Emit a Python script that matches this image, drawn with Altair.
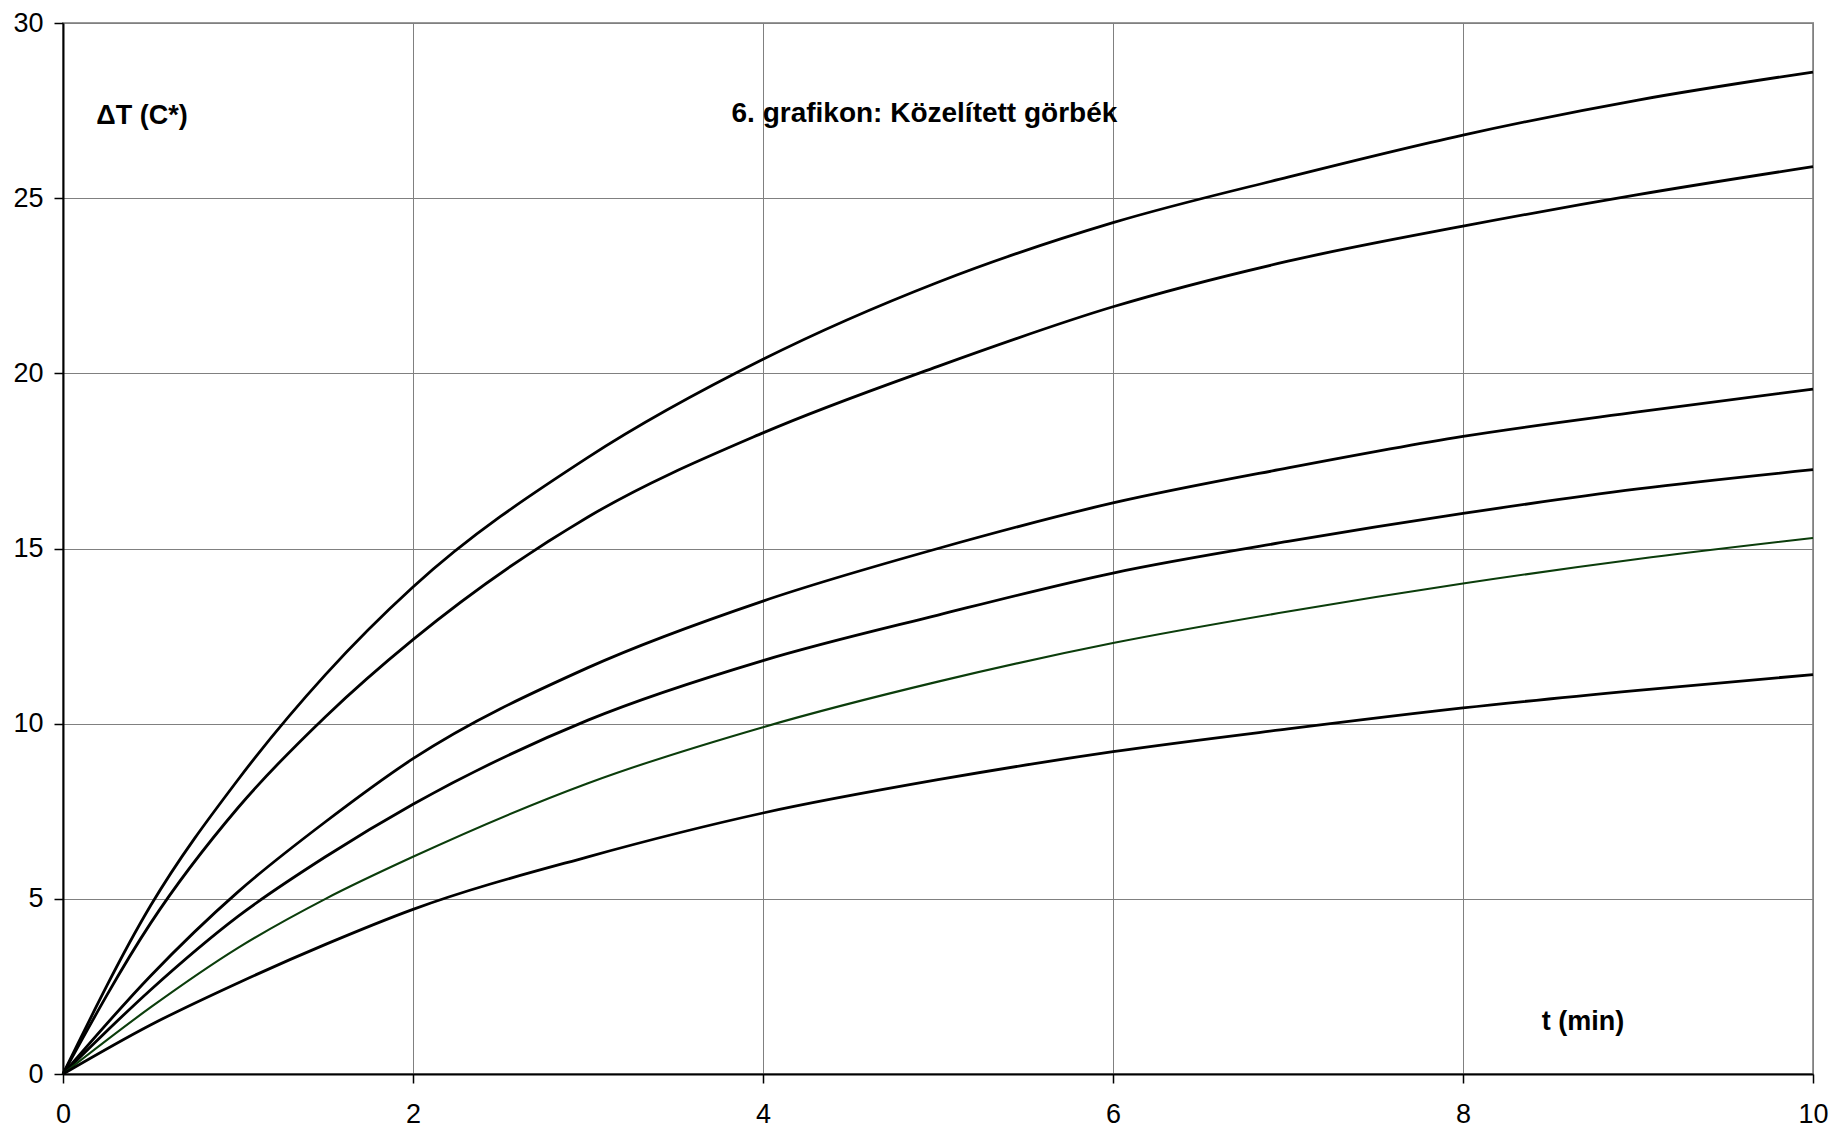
import altair as alt
import pandas as pd

# time points (min)
t_vals = [0, 0.5, 1, 1.5, 2, 3, 4, 5, 6, 7, 8, 9, 10]

# six approximated curves, ΔT (°C)
curve_a = [0, 4.8, 8.4, 11.4, 13.9, 17.6, 20.4, 22.6, 24.3, 25.6, 26.8, 27.8, 28.6]
curve_b = [0, 4.3, 7.6, 10.2, 12.4, 15.9, 18.3, 20.2, 21.9, 23.2, 24.2, 25.1, 25.9]
curve_c = [0, 2.8, 5.2, 7.2, 9.0, 11.6, 13.5, 15.0, 16.3, 17.3, 18.2, 18.9, 19.55]
curve_d = [0, 2.4, 4.5, 6.2, 7.7, 10.1, 11.8, 13.1, 14.3, 15.2, 16.0, 16.7, 17.25]
curve_e = [0, 1.9, 3.6, 5.0, 6.2, 8.3, 9.9, 11.2, 12.3, 13.2, 14.0, 14.7, 15.3]
curve_f = [0, 1.4, 2.6, 3.7, 4.7, 6.2, 7.45, 8.4, 9.2, 9.85, 10.45, 10.95, 11.4]

series_names = ["A", "B", "C", "D", "E", "F"]
series_colors = ["#000000", "#000000", "#000000", "#000000", "#0b3d0b", "#000000"]
series_widths = [2.8, 2.8, 2.8, 2.8, 2.1, 2.8]
all_curves = [curve_a, curve_b, curve_c, curve_d, curve_e, curve_f]

x_ticks = [0, 2, 4, 6, 8, 10]
y_ticks = [0, 5, 10, 15, 20, 25, 30]

# annotation texts, their anchor positions in data space and sizes
ann_text = ["ΔT (C*)", "6. grafikon: Közelített görbék", "t (min)"]
ann_t = [0.19, 3.82, 8.45]
ann_v = [27.35, 27.4, 1.48]
ann_size = [27, 28, 27]

rows = []
for name, w, vals in zip(series_names, series_widths, all_curves):
    for t, v in zip(t_vals, vals):
        rows.append({"t": t, "dT": v, "series": name, "w": w})
df = pd.DataFrame(rows)
ann_df = pd.DataFrame({"t": ann_t, "dT": ann_v, "label": ann_text, "fs": ann_size})

x_scale = alt.Scale(domain=[0, 10], nice=False, zero=False)
y_scale = alt.Scale(domain=[0, 30], nice=False, zero=False)

axis_common = dict(
    labelFont="Liberation Sans",
    labelFontSize=27,
    labelColor="#000000",
    labelFlush=False,
    labelOverlap=False,
    format="d",
    tickColor="#000000",
    tickSize=9,
    tickWidth=1.5,
    grid=True,
    gridColor="#808080",
    gridWidth=1,
    domainColor="#000000",
    domainWidth=2,
    title=None,
)

lines = alt.Chart(df).mark_line(interpolate="monotone").encode(
    x=alt.X("t:Q", scale=x_scale,
            axis=alt.Axis(values=x_ticks, labelPadding=18, **axis_common)),
    y=alt.Y("dT:Q", scale=y_scale,
            axis=alt.Axis(values=y_ticks, labelPadding=11, **axis_common)),
    color=alt.Color("series:N", scale=alt.Scale(domain=series_names, range=series_colors), legend=None),
    strokeWidth=alt.StrokeWidth("w:Q", scale=None, legend=None),
    detail="series:N",
)

texts = alt.Chart(ann_df).mark_text(
    align="left", baseline="middle", font="Liberation Sans",
    fontWeight="bold", color="#000000"
).encode(
    x=alt.X("t:Q", scale=x_scale),
    y=alt.Y("dT:Q", scale=y_scale),
    text="label:N",
    size=alt.Size("fs:Q", scale=None, legend=None),
)

chart = alt.layer(lines, texts).properties(
    width=1750,
    height=1051,
    padding={"left": 63, "top": 23, "right": 21, "bottom": 54},
    autosize=alt.AutoSizeParams(type="none"),
    background="#ffffff",
).configure_view(stroke="#999999", strokeWidth=2)

chart.save("out.html", embed_options={"renderer": "svg", "actions": False})
